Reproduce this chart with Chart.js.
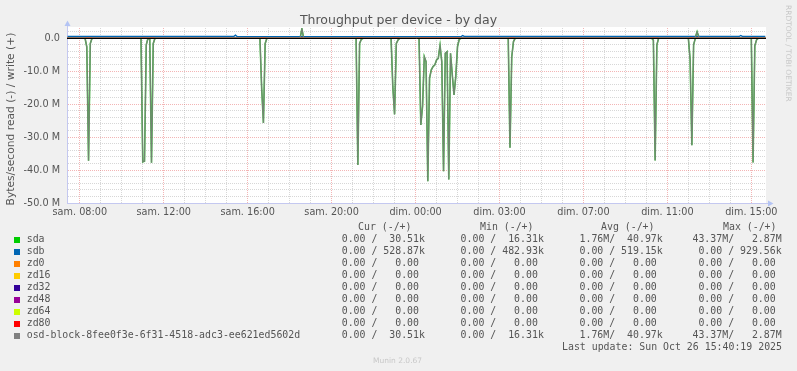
<!DOCTYPE html>
<html>
<head>
<meta charset="utf-8">
<script src="https://cdn.jsdelivr.net/npm/chart.js@4/dist/chart.umd.min.js"></script>
<style>
html,body{margin:0;padding:0;background:#f0f0f0;}
#wrap{position:relative;width:797px;height:371px;overflow:hidden;background:#f0f0f0;}
#c{position:absolute;left:0;top:0;}
.t{position:absolute;white-space:pre;color:#555;}
.mono{font-family:"DejaVu Sans Mono",monospace;font-size:9.9px;line-height:12px;}
.sw{position:absolute;width:6px;height:6px;}
#title{font-family:"DejaVu Sans",sans-serif;font-size:12.5px;line-height:15px;left:0;width:797px;text-align:center;top:11.5px;}
#ytitle{font-family:"DejaVu Sans",sans-serif;font-size:10.7px;line-height:12px;left:-89px;top:113px;width:200px;text-align:center;transform:rotate(-90deg);transform-origin:50% 50%;}
#rrd{font-family:"DejaVu Sans",sans-serif;font-size:7.5px;line-height:8px;color:#c8c8c8;left:791.5px;top:5px;transform:rotate(90deg);transform-origin:0 0;}
#ver{font-family:"DejaVu Sans",sans-serif;font-size:7.5px;line-height:9px;color:#c8c8c8;left:373px;top:356px;}
</style>
</head>
<body>
<div id="wrap">
<canvas id="c" width="797" height="371"></canvas>
<div class="t" id="title">Throughput per device - by day</div>
<div class="t" id="ytitle">Bytes/second read (-) / write (+)</div>
<div class="t" id="rrd">RRDTOOL / TOBI OETIKER</div>
<div class="t" id="ver">Munin 2.0.67</div>
</div>
<script>
// ---- data (time: minutes since "sam. 00:00", 5-minute samples; values in MB/s) ----
const xMin = 443.4, xMax = 2442;
const xTickValues = [480, 720, 960, 1200, 1440, 1680, 1920, 2160, 2400];
const xTickLabels = ['sam. 08:00','sam. 12:00','sam. 16:00','sam. 20:00','dim. 00:00','dim. 03:00','dim. 07:00','dim. 11:00','dim. 15:00'];
const yMin = -50, yMax = 3.1;
const yTickValues = [0, -10, -20, -30, -40, -50];
const yTickLabels = ['0.0', '-10.0 M', '-20.0 M', '-30.0 M', '-40.0 M', '-50.0 M'];

const sdaReadTimes = [445,495,500,505,510,515, 655,660,665,670,675,680,685,690,695, 995,1000,1005,1010,1015, 1270,1275,1280,1285,1290, 1370,1375,1380,1385,1390,1395, 1450,1455,1460,1465,1470,1475,1480,1485,1490,1495,1500,1505,1510,1515,1520,1525,1530,1535,1540,1545,1550,1555,1560,1565,1570, 1705,1710,1715,1720,1725, 2115,2120,2125,2130,2135, 2220,2225,2230,2235,2240, 2400,2405,2410,2415,2420, 2440];
const sdaReadValues = [0,0,2.6,37.2,1.6,0, 0,37.5,37.3,2.0,0,0.3,37.8,1.6,0, 0,15.2,25.7,1.6,0, 0,38.5,1.6,0.3,0, 0,14.7,23.1,1.6,0.5,0, 0,26.3,20.7,5.6,7.1,43.37,12.1,9.6,8.6,8.1,6.6,6.1,2.2,7.1,40.4,4.6,4.1,42.9,4.6,11.1,17.2,11.6,2.5,0.3,0, 0,33.2,5.7,1.0,0, 0,0.6,37.1,2.0,0, 0,6.4,32.5,2.0,0, 0,37.7,2.3,0.5,0, 0];
const sdaWriteTimes = [445, 1110, 1115, 1120, 2235, 2240, 2245, 2250, 2255, 2440];
const sdaWriteValues = [0.03, 0.03, 2.87, 0.03, 0.03, 0.3, 1.95, 0.4, 0.03, 0.03];
const sdbReadTimes = [445, 2440];
const sdbReadValues = [0, 0];
const sdbWriteTimes = [445, 920, 925, 930, 1570, 1575, 1580, 2365, 2370, 2375, 2440];
const sdbWriteValues = [0.52, 0.52, 0.93, 0.52, 0.50, 0.80, 0.52, 0.52, 0.85, 0.52, 0.53];
const zeroTimes = [445, 2440];
const zeroValues = [0, 0];
// osd-block has the same readings as sda (identical legend statistics)
const osdReadTimes = sdaReadTimes, osdReadValues = sdaReadValues;
const osdWriteTimes = sdaWriteTimes, osdWriteValues = sdaWriteValues;

const seriesNames = ['sda','sdb','zd0','zd16','zd32','zd48','zd64','zd80','osd-block-8fee0f3e-6f31-4518-adc3-ee621ed5602d'];
const seriesColors = ['#00CC00','#0066B3','#FF8000','#FFCC00','#330099','#990099','#CCFF00','#FF0000','#808080'];
const curText = ['  0.00 /  30.51k','  0.00 / 528.87k','  0.00 /   0.00 ','  0.00 /   0.00 ','  0.00 /   0.00 ','  0.00 /   0.00 ','  0.00 /   0.00 ','  0.00 /   0.00 ','  0.00 /  30.51k'];
const minText = ['  0.00 /  16.31k','  0.00 / 482.93k','  0.00 /   0.00 ','  0.00 /   0.00 ','  0.00 /   0.00 ','  0.00 /   0.00 ','  0.00 /   0.00 ','  0.00 /   0.00 ','  0.00 /  16.31k'];
const avgText = ['  1.76M/  40.97k','  0.00 / 519.15k','  0.00 /   0.00 ','  0.00 /   0.00 ','  0.00 /   0.00 ','  0.00 /   0.00 ','  0.00 /   0.00 ','  0.00 /   0.00 ','  1.76M/  40.97k'];
const maxText = [' 43.37M/   2.87M','  0.00 / 929.56k','  0.00 /   0.00 ','  0.00 /   0.00 ','  0.00 /   0.00 ','  0.00 /   0.00 ','  0.00 /   0.00 ','  0.00 /   0.00 ',' 43.37M/   2.87M'];
const headerTexts = ['Cur (-/+)','Min (-/+)','Avg (-/+)','Max (-/+)'];
const lastUpdate = 'Last update: Sun Oct 26 15:40:19 2025';

// ---- build ----
const readT = [sdaReadTimes, sdbReadTimes, zeroTimes, zeroTimes, zeroTimes, zeroTimes, zeroTimes, zeroTimes, osdReadTimes];
const readV = [sdaReadValues, sdbReadValues, zeroValues, zeroValues, zeroValues, zeroValues, zeroValues, zeroValues, osdReadValues];
const writeT = [sdaWriteTimes, sdbWriteTimes, zeroTimes, zeroTimes, zeroTimes, zeroTimes, zeroTimes, zeroTimes, osdWriteTimes];
const writeV = [sdaWriteValues, sdbWriteValues, zeroValues, zeroValues, zeroValues, zeroValues, zeroValues, zeroValues, osdWriteValues];
const widths = [1.6, 1.3, 1, 1, 1, 1, 1, 1, 1.2];
const lineColors = ['rgba(0,190,0,0.75)','#0066B3','#FF8000','#FFCC00','#330099','#990099','#CCFF00','#FF0000','rgba(118,128,118,0.95)'];

const datasets = [];
seriesNames.forEach((name, i) => {
  datasets.push({label: name + ' read', data: readT[i].map((t, k) => ({x: t, y: -readV[i][k]})),
    borderColor: lineColors[i], borderWidth: widths[i], order: -(2 * i)});
  datasets.push({label: name + ' write', data: writeT[i].map((t, k) => ({x: t, y: writeV[i][k]})),
    borderColor: lineColors[i], borderWidth: widths[i], order: -(2 * i + 1)});
});

const gridMajor = 'rgba(228,90,90,0.45)';
const gridMinor = 'rgba(160,160,160,0.42)';
const axisColor = '#c4c8f0';
const arrowColor = '#b4c4f4';

const muninDecor = {
  id: 'muninDecor',
  beforeDraw(chart) {
    const {ctx, chartArea: a} = chart;
    ctx.save();
    ctx.fillStyle = '#ffffff';
    ctx.fillRect(a.left, a.top - 1, a.right - a.left, a.bottom - a.top + 1);
    ctx.restore();
  },
  afterDatasetsDraw(chart) {
    const {ctx, chartArea: a, scales: {y}} = chart;
    const py = Math.round(y.getPixelForValue(0)) + 0.5;
    ctx.save();
    ctx.strokeStyle = '#000000';
    ctx.lineWidth = 1;
    ctx.beginPath(); ctx.moveTo(a.left, py); ctx.lineTo(a.right, py); ctx.stroke();
    ctx.restore();
  },
  afterDraw(chart) {
    const {ctx, chartArea: a} = chart;
    const lx = Math.round(a.left) + 0.5, by = Math.round(a.bottom) + 0.5;
    ctx.save();
    ctx.strokeStyle = axisColor; ctx.lineWidth = 1;
    ctx.beginPath(); ctx.moveTo(lx, a.top); ctx.lineTo(lx, a.top - 3); ctx.stroke();
    ctx.beginPath(); ctx.moveTo(a.right, by); ctx.lineTo(a.right + 3, by); ctx.stroke();
    ctx.fillStyle = arrowColor;
    ctx.beginPath(); ctx.moveTo(lx - 3, a.top - 2); ctx.lineTo(lx + 3, a.top - 2); ctx.lineTo(lx, a.top - 7.5); ctx.closePath(); ctx.fill();
    ctx.beginPath(); ctx.moveTo(a.right + 2, by - 3); ctx.lineTo(a.right + 2, by + 3); ctx.lineTo(a.right + 7.5, by); ctx.closePath(); ctx.fill();
    ctx.restore();
  }
};

Chart.defaults.font.family = '"DejaVu Sans", sans-serif';
Chart.defaults.color = '#555555';

new Chart(document.getElementById('c'), {
  type: 'line',
  data: {datasets},
  plugins: [muninDecor],
  options: {
    responsive: false,
    animation: false,
    devicePixelRatio: 1,
    events: [],
    layout: {padding: {left: 0, right: 31, top: 28, bottom: 148}},
    elements: {point: {radius: 0}, line: {tension: 0, fill: false}},
    plugins: {legend: {display: false}, tooltip: {enabled: false}, title: {display: false}},
    scales: {
      x: {
        type: 'linear', min: xMin, max: xMax,
        afterFit(s) { s.height = 20; },
        afterBuildTicks(s) {
          const t = [];
          for (let m = xTickValues[0]; m <= xTickValues[xTickValues.length - 1]; m += 60) t.push({value: m});
          s.ticks = t;
        },
        ticks: {
          autoSkip: false, maxRotation: 0, minRotation: 0, padding: 4,
          font: {size: 9.7}, color: '#555555',
          callback: (v) => { const i = xTickValues.indexOf(v); return i >= 0 ? xTickLabels[i] : ''; }
        },
        grid: {
          drawTicks: false, lineWidth: 1,
          color: (c) => (c.tick && xTickValues.indexOf(c.tick.value) >= 0) ? gridMajor : gridMinor
        },
        border: {display: true, color: axisColor, width: 1, dash: (c) => c.tick ? [1, 1] : []}
      },
      y: {
        type: 'linear', min: yMin, max: yMax,
        afterFit(s) { s.width = 67; },
        afterBuildTicks(s) {
          const t = [];
          for (let v = yMin; v <= 2; v += 2) t.push({value: v});
          s.ticks = t;
        },
        ticks: {
          autoSkip: false, padding: 7, font: {size: 9.7}, color: '#555555',
          callback: (v) => { const i = yTickValues.indexOf(v); return i >= 0 ? yTickLabels[i] : ''; }
        },
        grid: {
          drawTicks: false, lineWidth: 1,
          color: (c) => (c.tick && yTickValues.indexOf(c.tick.value) >= 0) ? gridMajor : gridMinor
        },
        border: {display: true, color: axisColor, width: 1, dash: (c) => c.tick ? [1, 1] : []}
      }
    }
  }
});

// ---- legend table (text) ----
const wrap = document.getElementById('wrap');
function addText(txt, left, top, cls) {
  const d = document.createElement('div');
  d.className = 't ' + cls;
  d.style.left = left + 'px';
  d.style.top = top + 'px';
  d.textContent = txt;
  wrap.appendChild(d);
  return d;
}
const headerX = [358, 480, 601, 723];
headerTexts.forEach((h, i) => addText(h, headerX[i], 221.3, 'mono'));
seriesNames.forEach((name, i) => {
  const sw = document.createElement('div');
  sw.className = 'sw';
  sw.style.left = '14px';
  sw.style.top = (237 + 12 * i) + 'px';
  sw.style.background = seriesColors[i];
  wrap.appendChild(sw);
  addText(name, 26.7, 233.3 + 12 * i, 'mono');
  addText(curText[i] + '    ' + minText[i] + '    ' + avgText[i] + '    ' + maxText[i], 329.8, 233.3 + 12 * i, 'mono');
});
addText(lastUpdate, 562, 341.3, 'mono');
</script>
</body>
</html>
